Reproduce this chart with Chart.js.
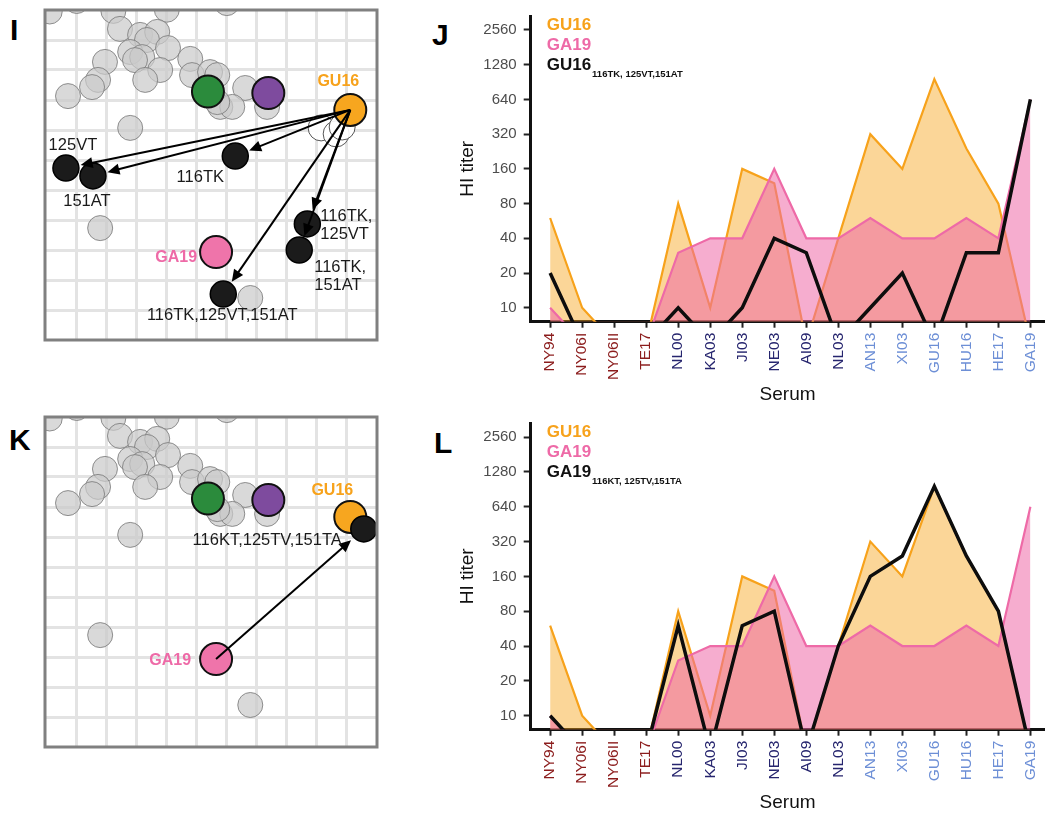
<!DOCTYPE html>
<html><head><meta charset="utf-8">
<script src="https://cdn.jsdelivr.net/npm/chart.js@4.4.1/dist/chart.umd.min.js"></script>
<style>
html,body{margin:0;padding:0;background:#fff;}
body{width:1054px;height:814px;position:relative;overflow:hidden;font-family:"Liberation Sans",Arial,sans-serif;}
canvas{position:absolute;}
.letter{position:absolute;font:bold 30px/30px "Liberation Sans",Arial,sans-serif;color:#000;}
</style></head><body>
<div class="letter" style="left:10px;top:15px">I</div>
<div class="letter" style="left:432px;top:20px">J</div>
<div class="letter" style="left:9px;top:425px">K</div>
<div class="letter" style="left:434px;top:428px">L</div>
<canvas id="mapI" width="342" height="340" style="left:40px;top:5px;width:342px;height:340px"></canvas>
<canvas id="titerJ" width="634" height="406" style="left:420px;top:0px;width:634px;height:406px"></canvas>
<canvas id="mapK" width="342" height="340" style="left:40px;top:411.7px;width:342px;height:340px"></canvas>
<canvas id="titerL" width="634" height="407" style="left:420px;top:407px;width:634px;height:407px"></canvas>
<script>
// ---------- DATA ----------
const serum = ['NY94','NY06I','NY06II','TE17','NL00','KA03','JI03','NE03','AI09','NL03','AN13','XI03','GU16','HU16','HE17','GA19'];
const serumGroup = [0,0,0,0,1,1,1,1,1,1,2,2,2,2,2,2];
const titerTicks = [10,20,40,80,160,320,640,1280,2560];
// titers below 10 are recorded as 5
const gu16Titer    = [60,10,5,5,80,10,160,120,5,40,320,160,960,240,80,5];
const ga19Titer    = [10,5,5,5,30,40,40,160,40,40,60,40,40,60,40,640];
const gu16MutTiter = [20,5,5,5,10,5,10,40,30,5,10,20,5,30,30,640];
const ga19MutTiter = [10,5,5,5,60,5,60,80,5,40,160,240,960,240,80,5];

// antigenic map coordinates (antigenic units)
const grayX = [0.1,1.0,2.22,4.0,6.0,2.44,3.11,3.68,3.34,4.04,2.78,3.18,2.94,3.78,3.28,1.94,1.71,1.51,0.71,4.78,4.84,5.44,5.68,6.61,5.78,6.18,5.68,7.34,2.78,1.78,6.78];
const grayY = [10.95,11.3,10.97,11.01,11.23,10.37,10.17,10.27,10.0,9.73,9.6,9.43,9.33,9.0,8.67,9.27,8.67,8.43,8.13,9.37,8.83,8.93,8.83,8.4,7.77,7.77,7.93,7.77,7.07,3.73,1.4];
const greenPos = [5.37, 8.28];
const purplePos = [7.38, 8.23];
const gu16Pos = [10.11, 7.67];
const ga19Pos = [5.64, 2.93];
const whiteX = [9.14, 9.64, 9.84];
const whiteY = [7.07, 6.87, 7.10];
const mutIName = ['125VT','151AT','116TK','116TK,\n125VT','116TK,\n151AT','116TK,125VT,151AT'];
const mutIX = [0.64, 1.54, 6.28, 8.68, 8.41, 5.88];
const mutIY = [5.73, 5.47, 6.13, 3.87, 3.00, 1.53];
const mutKName = ['116KT,125TV,151TA'];
const mutKX = [10.56];
const mutKY = [7.27];
const gridTicks = [1,2,3,4,5,6,7,8,9,10];

// ---------- STYLE ----------
const FONT = '"Liberation Sans", Arial, sans-serif';
Chart.defaults.font.family = FONT;
Chart.defaults.animation = false;
const ORANGE = '#f7a21b', PINK = '#ee6aa7';
const groupColors = ['#8b1c1c', '#26256e', '#6d8fd6'];

function pts(xs, ys){ return xs.map((x,i)=>({x:x, y:ys[i]})); }

// ---------- MAP PANELS ----------
const mapPlugin = {
  id:'mapDeco',
  afterDatasetsDraw(chart, args, o){
    const ctx = chart.ctx, sx = chart.scales.x, sy = chart.scales.y;
    const P = (u,v)=>[sx.getPixelForValue(u), sy.getPixelForValue(v)];
    ctx.save();
    ctx.beginPath(); ctx.rect(chart.chartArea.left, chart.chartArea.top, chart.chartArea.right-chart.chartArea.left, chart.chartArea.bottom-chart.chartArea.top); ctx.clip();
    ctx.strokeStyle = '#000'; ctx.fillStyle = '#000';
    const [ax, ay] = P(o.from[0], o.from[1]);
    o.toX.forEach((u,i)=>{
      const [bx, by] = P(u, o.toY[i]);
      const dx = bx-ax, dy = by-ay, L = Math.hypot(dx,dy), ux = dx/L, uy = dy/L;
      const tx = bx-ux*o.shorten, ty = by-uy*o.shorten, hl = 12, hw = 5.5;
      ctx.lineWidth = 2;
      ctx.beginPath(); ctx.moveTo(ax,ay); ctx.lineTo(tx-ux*hl*0.7, ty-uy*hl*0.7); ctx.stroke();
      ctx.beginPath(); ctx.moveTo(tx,ty);
      ctx.lineTo(tx-ux*hl-uy*hw, ty-uy*hl+ux*hw);
      ctx.lineTo(tx-ux*hl+uy*hw, ty-uy*hl-ux*hw);
      ctx.closePath(); ctx.fill();
    });
    ctx.restore();
    ctx.save();
    ctx.textBaseline = 'middle';
    o.labels.forEach(l=>{
      const [px, py] = P(l.at[0], l.at[1]);
      ctx.font = (l.bold ? 'bold 16px ' : '16.5px ') + FONT;
      ctx.fillStyle = l.color || '#1a1a1a';
      ctx.textAlign = l.align || 'center';
      String(l.text).split('\n').forEach((line, k)=>{
        ctx.fillText(line, px + l.dx, py + l.dy + k*18);
      });
    });
    ctx.restore();
  },
  afterDraw(chart){
    const {ctx, chartArea:a} = chart;
    ctx.save(); ctx.strokeStyle = '#808080'; ctx.lineWidth = 3;
    ctx.strokeRect(a.left, a.top, a.right-a.left, a.bottom-a.top);
    ctx.restore();
  }
};

function makeMap(id, mutX, mutY, withWhite, deco){
  const ds = [
    {data: pts(mutX, mutY), pointRadius:13, pointBackgroundColor:'#1b1b1b', pointBorderColor:'#000', pointBorderWidth:1.5, order:0},
    {data: [{x:ga19Pos[0], y:ga19Pos[1]}], pointRadius:16, pointBackgroundColor:'#ef74aa', pointBorderColor:'#111', pointBorderWidth:2, order:1},
    {data: [{x:gu16Pos[0], y:gu16Pos[1]}], pointRadius:16, pointBackgroundColor:'#f7a61f', pointBorderColor:'#111', pointBorderWidth:2, order:2},
    {data: [{x:purplePos[0], y:purplePos[1]}], pointRadius:16, pointBackgroundColor:'#7e4b9e', pointBorderColor:'#111', pointBorderWidth:2, order:3},
    {data: [{x:greenPos[0], y:greenPos[1]}], pointRadius:16, pointBackgroundColor:'#2b8b3c', pointBorderColor:'#111', pointBorderWidth:2, order:4},
    {data: withWhite ? pts(whiteX, whiteY) : [], pointRadius:13, pointBackgroundColor:'rgba(255,255,255,0.9)', pointBorderColor:'#555', pointBorderWidth:1, order:5},
    {data: pts(grayX, grayY), pointRadius:12.5, pointBackgroundColor:'rgba(202,202,202,0.72)', pointBorderColor:'rgba(125,125,125,0.85)', pointBorderWidth:1, order:6}
  ];
  ds.forEach(d=>{ d.clip = 0; d.pointHoverRadius = d.pointRadius; });
  const axis = (isX)=>({
    type:'linear', min: isX ? -0.057 : 0, max: 11,
    afterBuildTicks: s=>{ s.ticks = gridTicks.map(v=>({value:v})); },
    ticks:{display:false},
    grid:{color:'#e3e3e3', lineWidth:3, drawTicks:false},
    border:{display:false},
    afterFit: s=>{ if(isX) s.height = 0; else s.width = 0; }
  });
  return new Chart(document.getElementById(id), {
    type:'scatter',
    data:{datasets:ds},
    options:{
      responsive:false, animation:false,
      layout:{padding:5, autoPadding:false},
      events:[],
      plugins:{legend:{display:false}, tooltip:{enabled:false}, mapDeco:deco},
      scales:{x:axis(true), y:axis(false)}
    },
    plugins:[mapPlugin]
  });
}

makeMap('mapI', mutIX, mutIY, true, {
  from: gu16Pos, toX: mutIX, toY: mutIY, shorten: 15,
  labels: [
    {text:'GU16', at:gu16Pos, dx:-12, dy:-28, bold:true, color:ORANGE},
    {text:'GA19', at:ga19Pos, dx:-19, dy:5, bold:true, color:PINK, align:'right'},
    {text:mutIName[0], at:[mutIX[0],mutIY[0]], dx:7, dy:-23},
    {text:mutIName[1], at:[mutIX[1],mutIY[1]], dx:-6, dy:26},
    {text:mutIName[2], at:[mutIX[2],mutIY[2]], dx:-35, dy:21},
    {text:mutIName[3], at:[mutIX[3],mutIY[3]], dx:13, dy:-7, align:'left'},
    {text:mutIName[4], at:[mutIX[4],mutIY[4]], dx:15, dy:17, align:'left'},
    {text:mutIName[5], at:[mutIX[5],mutIY[5]], dx:-1, dy:21}
  ]
});
makeMap('mapK', mutKX, mutKY, false, {
  from: ga19Pos, toX: mutKX, toY: mutKY, shorten: 17,
  labels: [
    {text:'GU16', at:gu16Pos, dx:-18, dy:-26, bold:true, color:ORANGE},
    {text:'GA19', at:ga19Pos, dx:-25, dy:1, bold:true, color:PINK, align:'right'},
    {text:mutKName[0], at:[mutKX[0],mutKY[0]], dx:-22, dy:12, align:'right'}
  ]
});

// ---------- TITER PANELS ----------
const legendPlugin = {
  id:'titerLegend',
  afterDraw(chart, args, o){
    const {ctx, chartArea} = chart;
    const x = chartArea.left + 16, t = chartArea.top;
    ctx.save();
    ctx.textAlign = 'left'; ctx.textBaseline = 'alphabetic';
    ctx.font = 'bold 17px ' + FONT;
    ctx.fillStyle = ORANGE; ctx.fillText('GU16', x, t+14);
    ctx.fillStyle = PINK; ctx.fillText('GA19', x, t+34);
    ctx.fillStyle = '#111'; ctx.fillText(o.name, x, t+54);
    const w = ctx.measureText(o.name).width;
    ctx.font = 'bold 9.5px ' + FONT;
    ctx.fillText(o.sub, x + w + 1, t + 60.7);
    ctx.restore();
  }
};

function series(vals){ return vals.map((v,i)=>({x:i, y:v})); }

function makeTiter(id, name, sub, mutVals){
  return new Chart(document.getElementById(id), {
    type:'line',
    data:{datasets:[
      {label:name, data:series(mutVals), borderColor:'#0d0d0d', borderWidth:3.5, pointRadius:0, fill:false, clip:0, tension:0, order:0},
      {label:'GA19', data:series(ga19Titer), borderColor:PINK, backgroundColor:'rgba(238,106,167,0.55)', borderWidth:2.2, pointRadius:0, fill:'start', clip:0, tension:0, order:1},
      {label:'GU16', data:series(gu16Titer), borderColor:ORANGE, backgroundColor:'rgba(247,163,27,0.45)', borderWidth:2.2, pointRadius:0, fill:'start', clip:0, tension:0, order:2}
    ]},
    options:{
      responsive:false, animation:false, events:[],
      layout:{padding:{left:0, top:10, right:0, bottom:0}, autoPadding:false},
      plugins:{legend:{display:false}, tooltip:{enabled:false}, titerLegend:{name:name, sub:sub}},
      scales:{
        x:{
          type:'linear', min:-0.607, max:15.44,
          afterBuildTicks: s=>{ s.ticks = serum.map((_,i)=>({value:i})); },
          ticks:{autoSkip:false, minRotation:90, maxRotation:90, padding:5,
            callback:(v,i)=>serum[i], color:c=>groupColors[serumGroup[c.index]], font:{size:15.5}},
          grid:{drawOnChartArea:false, tickLength:6, tickWidth:2, tickColor:'#222'},
          border:{color:'#111', width:3},
          title:{display:true, text:'Serum', color:'#111', font:{size:19}, padding:{top:0, bottom:0}},
          afterFit: s=>{ s.height = 84.3; }
        },
        y:{
          type:'logarithmic', min:7.57, max:3385,
          afterBuildTicks: s=>{ s.ticks = titerTicks.map(v=>({value:v})); },
          ticks:{autoSkip:false, padding:7, callback:v=>String(v), color:'#4d4d4d', font:{size:15}},
          grid:{drawOnChartArea:false, tickLength:7, tickWidth:2, tickColor:'#222'},
          border:{color:'#111', width:3},
          title:{display:true, text:'HI titer', color:'#111', font:{size:19}, padding:{top:36, bottom:0}},
          afterFit: s=>{ s.width = 110.7; }
        }
      }
    },
    plugins:[legendPlugin]
  });
}

makeTiter('titerJ', 'GU16', '116TK, 125VT,151AT', gu16MutTiter);
makeTiter('titerL', 'GA19', '116KT, 125TV,151TA', ga19MutTiter);
</script>
</body></html>
